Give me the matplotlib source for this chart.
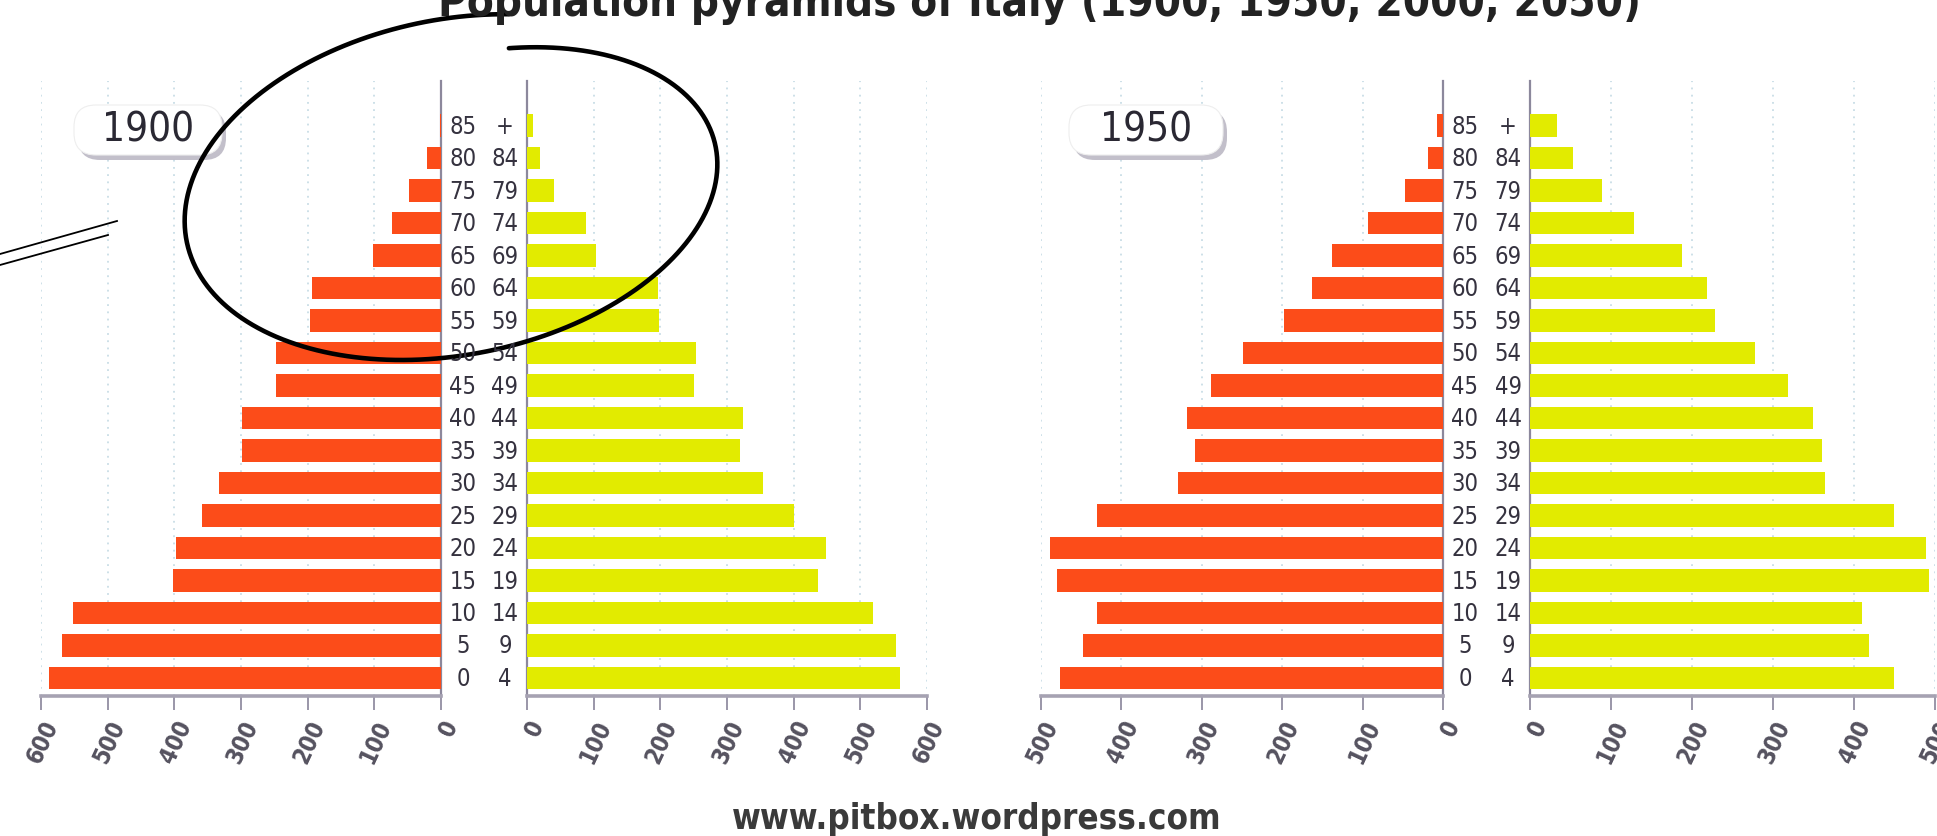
import numpy as np
import matplotlib
matplotlib.use('Agg')
import matplotlib.pyplot as plt
from matplotlib.patches import FancyBboxPatch
from matplotlib.lines import Line2D
from matplotlib.transforms import IdentityTransform, blended_transform_factory

# age groups, from youngest (bottom) to oldest (top)
age_lo = ['0', '5', '10', '15', '20', '25', '30', '35', '40', '45',
          '50', '55', '60', '65', '70', '75', '80', '85']
age_hi = ['4', '9', '14', '19', '24', '29', '34', '39', '44', '49',
          '54', '59', '64', '69', '74', '79', '84', '+']

# population (thousands)
male_1900 = [588, 568, 552, 402, 397, 358, 333, 298, 298, 247,
             248, 196, 194, 102, 73, 48, 21, 2]
female_1900 = [559, 554, 519, 437, 448, 400, 354, 320, 324, 251,
               253, 198, 197, 103, 88, 40, 19, 9]
male_1950 = [476, 448, 430, 480, 489, 430, 329, 309, 318, 289,
             249, 198, 163, 138, 93, 47, 19, 8]
female_1950 = [449, 419, 410, 492, 489, 449, 364, 360, 349, 319,
               278, 229, 218, 188, 128, 89, 53, 33]

years = ['1900', '1950']
x_max = [600, 500]

title = 'Population pyramids of Italy (1900, 1950, 2000, 2050)'
source = 'www.pitbox.wordpress.com'

W, H = 1937, 837
MALE = '#fc4c19'
FEMALE = '#e2eb00'
AXIS = '#8c889c'
TXT = '#35323f'

plt.rcParams['font.family'] = ['DejaVu Sans']
plt.rcParams['font.stretch'] = 'condensed'

fig = plt.figure(figsize=(W / 100, H / 100), dpi=100)
fig.patch.set_facecolor('white')


def rect(x0, x1, ytop, ybot):
    # pixel box (y from top) -> figure fraction
    return [x0 / W, 1 - ybot / H, (x1 - x0) / W, (ybot - ytop) / H]


def px(x, y):
    return x, H - y


y = np.arange(len(age_lo))
ylim = (-0.554, 18.37)

# pixel layout of every panel: male axis, female axis, year badge
layout = [
    dict(m=(41, 441), f=(527, 927), badge=(74, 222)),
    dict(m=(1041, 1443), f=(1530, 1935), badge=(1069, 1223)),
]
series = [(male_1900, female_1900), (male_1950, female_1950)]

for k, lay in enumerate(layout):
    males, females = series[k]
    ticks = np.arange(0, x_max[k] + 1, 100)

    ax_m = fig.add_axes(rect(lay['m'][0], lay['m'][1], 82, 697))
    ax_f = fig.add_axes(rect(lay['f'][0], lay['f'][1], 82, 697))

    ax_m.barh(y, males, height=0.7, color=MALE, zorder=3)
    ax_f.barh(y, females, height=0.7, color=FEMALE, zorder=3)
    ax_m.set_xlim(x_max[k], 0)
    ax_f.set_xlim(0, x_max[k])

    for ax, side in ((ax_m, 'right'), (ax_f, 'left')):
        ax.set_ylim(*ylim)
        ax.set_yticks([])
        ax.set_facecolor('none')
        for s in ax.spines:
            ax.spines[s].set_visible(False)
        ax.spines[side].set_visible(True)
        ax.spines[side].set_color(AXIS)
        ax.spines[side].set_linewidth(1.6)
        ax.spines['bottom'].set_visible(True)
        ax.spines['bottom'].set_color('#a6a2b2')
        ax.spines['bottom'].set_linewidth(2.6)
        ax.set_xticks(ticks)
        ax.set_xticklabels([str(t) for t in ticks], rotation=65,
                           ha='right', va='top', rotation_mode='anchor',
                           fontsize=17, fontweight='bold', color='#55525f')
        ax.tick_params(axis='x', length=10, width=1.4, color='#9a96a8', pad=4)
        ax.grid(axis='x', color='#c9dde6', linestyle=(0, (1, 3)), linewidth=1.3)
        ax.set_axisbelow(True)

    # age class labels between the two halves
    tr = blended_transform_factory(fig.transFigure, ax_m.transData)
    xl = (lay['m'][1] + 22) / W
    xr = (lay['f'][0] - 22) / W
    for i in y:
        fig.text(xl, i, age_lo[i], transform=tr, ha='center', va='center',
                 fontsize=17, color=TXT)
        fig.text(xr, i, age_hi[i], transform=tr, ha='center', va='center',
                 fontsize=17, color=TXT)

    # year badge with soft shadow
    bx0, bx1 = lay['badge']
    bx, by = px(bx0, 156)
    shadow = FancyBboxPatch((bx + 4, by - 5), bx1 - bx0, 50,
                            boxstyle='round,pad=0,rounding_size=22',
                            transform=IdentityTransform(), facecolor='#b3afbd',
                            edgecolor='none', alpha=0.8)
    badge = FancyBboxPatch((bx, by), bx1 - bx0, 50,
                           boxstyle='round,pad=0,rounding_size=22',
                           transform=IdentityTransform(), facecolor='white',
                           edgecolor='#eeeeee', linewidth=0.8)
    fig.add_artist(shadow)
    fig.add_artist(badge)
    fig.text((bx0 + bx1) / 2 / W, 1 - 131 / H, years[k], ha='center',
             va='center', fontsize=29, color='#2a2833')

# hand drawn loop around the old-age classes of 1900
t = np.radians(np.linspace(70, 430, 400))
u = np.linspace(0, 1, t.size)
phi = np.radians(12)
a, b = 270, 166
cx, cy = px(451, 187)
ex = cx + a * np.cos(t) * np.cos(phi) - b * np.sin(t) * np.sin(phi)
ey = cy + a * np.cos(t) * np.sin(phi) + b * np.sin(t) * np.cos(phi) - 34 * u ** 4
fig.add_artist(Line2D(ex, ey, transform=IdentityTransform(), color='black',
                      linewidth=3.3, solid_capstyle='round'))

# callout tail on the left
for (x0, y0, x1, y1) in [(0, 255, 117, 222), (0, 266, 108, 236)]:
    xa, ya = px(x0, y0)
    xb, yb = px(x1, y1)
    fig.add_artist(Line2D([xa, xb], [ya, yb], transform=IdentityTransform(),
                          color='black', linewidth=1.3))

# title, mostly cut off by the top border
fig.text(1040 / W, 1 - 16 / H, title, ha='center', va='baseline',
         fontsize=31.5, fontweight='bold', color='#222222')

fig.text(977 / W, 1 - 829 / H, source, ha='center', va='baseline',
         fontsize=25, fontweight='bold', color='#3a3a3a')

fig.savefig('out.png', dpi=100, facecolor='white')
